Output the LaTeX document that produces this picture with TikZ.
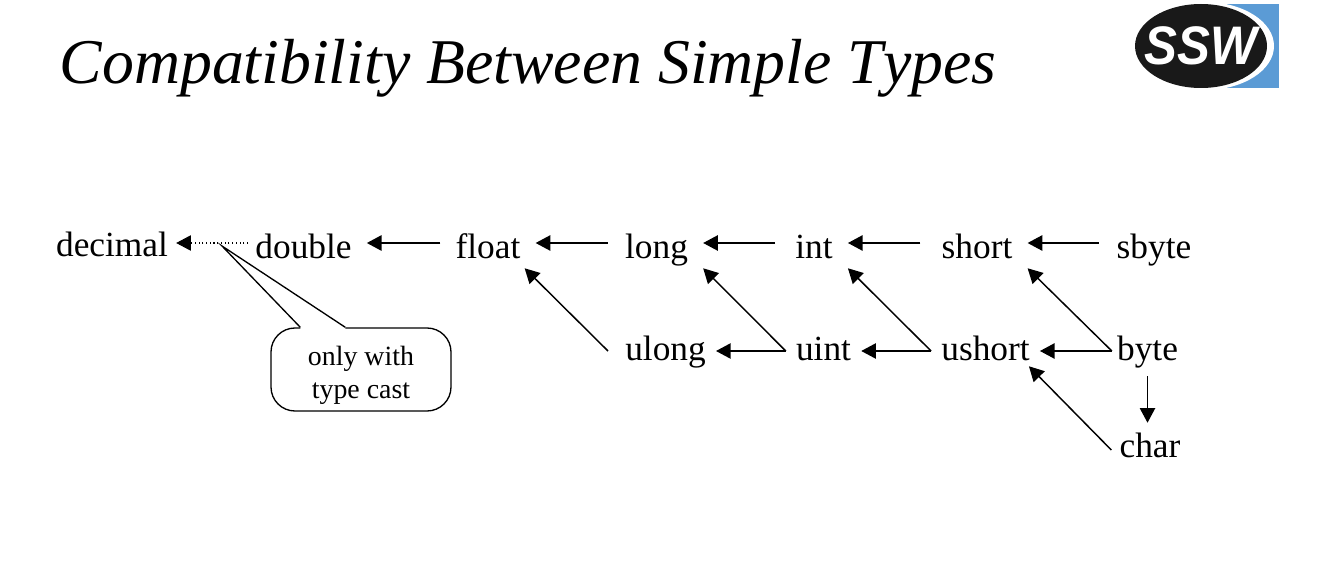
\documentclass[tikz,border=0pt]{standalone}
\usepackage{fontspec}
\setmainfont{Liberation Serif}
\newfontfamily\logofont{Liberation Sans}
\usetikzlibrary{arrows.meta}

\begin{document}
\begin{tikzpicture}[
  x=0.75pt, y=-0.75pt,
  typea/.style={inner ysep=0pt, inner xsep=11.25pt, text height=30pt, text depth=7.5pt,
                font=\fontsize{26.5pt}{30pt}\selectfont},
  typeb/.style={typea, inner xsep=7.5pt, text height=25.5pt, text depth=12pt},
  arr/.style={draw, line width=1.1pt, -{Triangle[length=11pt,width=11.5pt]}},
  note/.style={draw, line width=1pt, rounded corners=18pt, minimum width=135pt, minimum height=62.25pt,
               inner sep=0pt, align=center, font=\fontsize{20.9pt}{25pt}\selectfont},
]
\useasboundingbox (0,0) rectangle (1342,563);
% --- Title ---
\node[anchor=base west, inner sep=0pt, font=\fontsize{47.8pt}{50pt}\selectfont\itshape\addfontfeatures{Kerning=Off}] (title) at (59.5,84)
  {Compatibility Between Simple Types};
% --- Logo ---
\fill[fill={rgb,255:red,91;green,155;blue,213}] (1226,4) rectangle (1279,88);
\fill[white] (1205,46) ellipse [x radius=69, y radius=44];
\fill[black!90] (1201,46) ellipse [x radius=66, y radius=42];
\node[text=white, yscale=1.1, inner sep=0pt, font=\logofont\fontsize{37pt}{37pt}\selectfont\bfseries\itshape] (logo) at (1201,46) {SSW};
% --- Upper row ---
\node[typea] (decimal) at (112,  241.5) {decimal};
\node[typea] (double)  at (303.5,243) {double};
\node[typea] (float)   at (488,  243) {float};
\node[typea] (long)    at (656.5,243) {long};
\node[typea] (int)     at (814,  243) {int};
\node[typea] (short)   at (977,  243) {short};
\node[typea] (sbyte)   at (1154, 243) {sbyte};
% --- Lower row ---
\node[typeb] (ulong)   at (665.5, 351) {ulong};
\node[typeb] (uint)    at (823.5, 351) {uint};
\node[typeb] (ushort)  at (985.5, 351) {ushort};
\node[typeb, inner xsep=3.75pt] (byte) at (1147.5,351) {byte};
\node[typeb] (char)    at (1150,  448) {char};
% --- Upper row arrows ---
\draw[arr] (float) -- (double);
\draw[arr, shorten <=1.5pt] (long) -- (float);
\draw[arr, shorten <=3.75pt] (int) -- (long);
\draw[arr, shorten <=4.5pt] (short) -- (int);
\draw[arr, shorten <=2pt] (sbyte) -- (short);
\draw[arr, line width=0.8pt, dotted] ([shift={(8,0)}]double.west) -- ([shift={(-7,1.5)}]decimal.east);
% --- Lower row arrows ---
\draw[arr] (uint.west) -- (ulong.east);
\draw[arr] (ushort.west) -- (uint.east);
\draw[arr] (byte.west) -- (ushort.east);
\draw[arr] (byte.south) -- (byte.south |- char.north);
% --- Diagonal arrows ---
\draw[arr] ([shift={(-7,0)}]ulong.west) -- ([shift={(-11,0)}]float.south east);
\draw[arr] (uint.west) -- (long.south east);
\draw[arr] (ushort.west) -- (int.south east);
\draw[arr] (byte.west) -- (short.south east);
\draw[arr] ([shift={(2,2)}]char.west) -- ([shift={(-11,-10)}]ushort.south east);
% --- Type cast note ---
\node[note] (cast) at (361,369.5) {\rule{0pt}{23.3pt}only with\\type cast};
\coordinate (tip) at (222,246);
\fill[white] ([shift={(30,-1)}]cast.north west) -- (tip) -- ([shift={(75,-1)}]cast.north west) -- ([shift={(75,1.5)}]cast.north west) -- ([shift={(30,1.5)}]cast.north west) -- cycle;
\draw[line width=1pt] ([shift={(30,0)}]cast.north west) -- (tip) -- ([shift={(75,0)}]cast.north west);
\end{tikzpicture}
\end{document}
